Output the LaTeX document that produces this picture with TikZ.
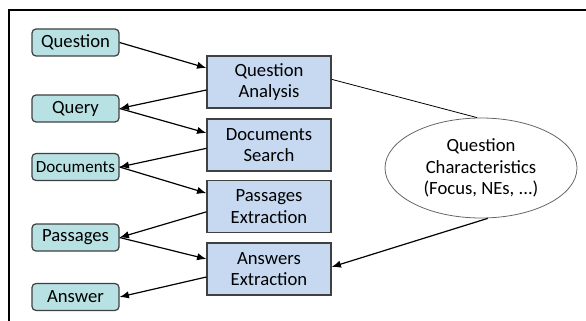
\documentclass[tikz,border=0pt]{standalone}
\usepackage{fontspec}
\setmainfont{Carlito}
\usetikzlibrary{shapes.geometric,arrows.meta}
\definecolor{stepfill}{RGB}{198,217,241}
\definecolor{datafill}{RGB}{183,225,226}
\definecolor{edge}{RGB}{64,64,64}
\tikzset{%
  % Specifications for style of nodes:
    base/.style = {draw=edge, line width=0.9pt, inner sep=0pt,
                   text centered, align=center,
                   font=\fontsize{14}{16}\selectfont},
    datum/.style = {base, rectangle, rounded corners=3pt, fill=datafill,
                    minimum width=65.25pt, minimum height=20.25pt},
    stage/.style = {base, rectangle, fill=stepfill,
                    minimum width=93pt, minimum height=39pt},
    info/.style = {base, ellipse, draw=edge!80, line width=0.6pt,
                   minimum width=144pt, minimum height=75pt},
    flow/.style = {-{Latex[length=7pt,width=5.5pt]}, line width=0.9pt}%
}
\begin{document}
\begin{tikzpicture}[x=0.75pt,y=-0.75pt]
\useasboundingbox (0,0) rectangle (586,321);

% frame
\draw[line width=1.2pt] (586,10) -- (9,10) -- (9,321);

% data on the left
\node[datum] (q)    at (75.5,42.5) {Question};
\node[datum] (qry)  at (75.5,108.5) {Query};
\node[datum, font=\fontsize{12.8}{15}\selectfont] (docs) at (75.5,167) {Documents};
\node[datum] (psg)  at (75.5,237.5) {Passages};
\node[datum] (ans)  at (75.5,297) {Answer};

% processing stages
\node[stage] (qa) at (269,82) {Question\\Analysis};
\node[stage] (ds) at (269,145) {Documents\\Search};
\node[stage] (pe) at (269,206.5) {Passages\\Extraction};
\node[stage] (ae) at (269,269) {Answers\\Extraction};

\node[info] (chars) at (481,168) {Question\\Characteristics\\(Focus, NEs, ...)};

\draw[flow] (q.east) -- ([yshift=10.5pt]qa.west);
\draw[flow] ([yshift=-6pt]qa.west) -- (qry.east);
\draw[flow] (qry.east) -- ([yshift=9pt]ds.west);
\draw[flow] ([yshift=-2.5pt]ds.west) -- (docs.east);
\draw[flow] (docs.east) -- ([yshift=10pt]pe.west);
\draw[flow] ([yshift=-4pt]pe.west) -- (psg.east);
\draw[flow] (psg.east) -- ([yshift=7.5pt]ae.west);
\draw[flow] ([yshift=-6pt]ae.west) -- (ans.east);

\draw[line width=0.6pt] ([yshift=2pt]qa.east) -- ([xshift=-3pt]chars.north);
\draw[flow] ([xshift=5pt]chars.south) -- ([yshift=1.5pt]ae.east);

\end{tikzpicture}
\end{document}
